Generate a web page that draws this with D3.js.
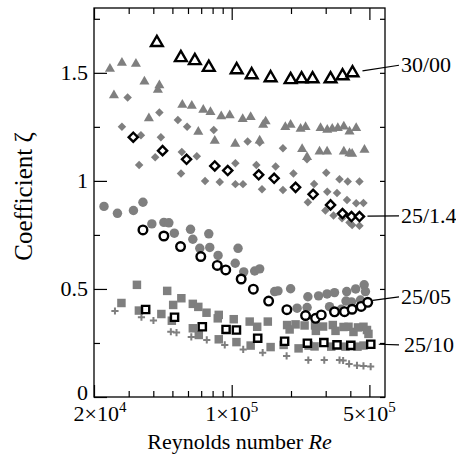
<!DOCTYPE html>
<html>
<head>
<meta charset="utf-8">
<script src="https://cdn.jsdelivr.net/npm/d3@7"></script>
<style>
  body { margin: 0; background: #fff; }
  svg { display: block; }
  text { font-family: "Liberation Serif", "Times New Roman", serif; fill: #000; }
</style>
</head>
<body>
<svg id="chart" width="456" height="469"></svg>
<script>
// --- data (Re, coefficient zeta) ---
// 30/00 : open triangles and grey triangles
var re3000 = [41700, 55200, 65000, 76500, 106000, 126300, 157600, 199100, 226300, 257300, 317500, 365200, 410300]
var zeta3000 = [1.64, 1.57, 1.556, 1.525, 1.514, 1.491, 1.477, 1.468, 1.472, 1.472, 1.472, 1.486, 1.50]
var re3000Gray = [24100, 27720, 32650, 25250, 36060, 42940, 42200, 37990, 56150, 62730, 71750, 78020, 88500, 97730, 113700, 67680, 82040, 104200, 124800, 144500, 148700, 187100, 199100, 223700, 237100, 282500, 305500, 323900, 345700, 370800, 396200, 428400, 138700, 227800, 241200, 279200, 305000, 370800, 396200, 408600, 472000]
var zeta3000Gray = [1.519, 1.546, 1.542, 1.396, 1.460, 1.442, 1.421, 1.290, 1.352, 1.347, 1.329, 1.318, 1.299, 1.303, 1.286, 1.227, 1.185, 1.171, 1.295, 1.259, 1.275, 1.249, 1.259, 1.241, 1.249, 1.244, 1.236, 1.241, 1.244, 1.251, 1.228, 1.244, 1.187, 1.147, 1.110, 1.136, 1.136, 1.136, 1.128, 1.125, 1.144]

// 25/1.4 : open diamonds and grey diamonds
var re2514 = [31640, 44580, 58990, 82040, 95480, 137100, 164200, 211000, 258900, 317500, 365100, 405500, 445200]
var zeta2514 = [1.202, 1.140, 1.100, 1.069, 1.048, 1.028, 1.012, 0.970, 0.938, 0.889, 0.849, 0.835, 0.835]
var re2514Gray = [29630, 27720, 42940, 34610, 43700, 33890, 40890, 53300, 59400, 81090, 55830, 66510, 55300, 73260, 86970, 104400, 104400, 114100, 120500, 138700, 182000, 241200, 133400, 142500, 167100, 205800, 182000, 262000, 243600, 302000, 352600, 388100, 445200, 305500, 342400, 384800, 428400, 466500, 298800, 328800, 363100, 396200, 408600, 445200]
var zeta2514Gray = [1.386, 1.25, 1.316, 1.211, 1.202, 1.074, 1.109, 1.282, 1.251, 1.236, 1.134, 1.114, 1.034, 0.999, 0.995, 0.985, 1.082, 0.985, 1.182, 1.178, 1.151, 1.100, 1.074, 0.961, 1.067, 1.034, 0.958, 0.986, 0.901, 1.038, 1.008, 0.997, 0.997, 0.950, 0.944, 0.912, 0.897, 0.898, 0.863, 0.840, 0.827, 0.807, 0.796, 0.792]

// 25/05 : open circles and grey circles
var re2505 = [35440, 45260, 54990, 69680, 84480, 93280, 111700, 128800, 154000, 190600, 237100, 266500, 284800, 332600, 373800, 408600, 454100, 490400]
var zeta2505 = [0.773, 0.745, 0.696, 0.650, 0.609, 0.588, 0.546, 0.499, 0.444, 0.404, 0.377, 0.364, 0.380, 0.394, 0.395, 0.406, 0.419, 0.438]
var re2505Gray = [22480, 26300, 31710, 35440, 39330, 45260, 47970, 51150, 61790, 63480, 76500, 68870, 77390, 85270, 107700, 104200, 115100, 130800, 138700, 165200, 171700, 199100, 214800, 243600, 241400, 276000, 304800, 332600, 313800, 380400, 383600, 425900, 470300, 477500, 359700, 405500, 450500]
var zeta2505Gray = [0.882, 0.850, 0.863, 0.901, 0.801, 0.808, 0.806, 0.758, 0.776, 0.730, 0.755, 0.688, 0.692, 0.655, 0.688, 0.619, 0.579, 0.583, 0.593, 0.488, 0.491, 0.501, 0.411, 0.464, 0.414, 0.468, 0.477, 0.483, 0.418, 0.444, 0.488, 0.500, 0.519, 0.488, 0.406, 0.440, 0.449]

// 25/10 : open squares, grey squares and grey crosses
var re2510 = [36570, 51270, 70920, 93620, 105700, 135500, 185600, 242200, 293600, 342400, 402300, 508000]
var zeta2510 = [0.405, 0.369, 0.325, 0.3125, 0.310, 0.272, 0.258, 0.249, 0.252, 0.241, 0.239, 0.244]
var re2510Gray = [27560, 33030, 33800, 43950, 47050, 49670, 50460, 55520, 63480, 67680, 63480, 68070, 74490, 85960, 84960, 85960, 102400, 105700, 123400, 134700, 152500, 124800, 157600, 191100, 196800, 211000, 183500, 218500, 234400, 264900, 267400, 245600, 263400, 290900, 326000, 336500, 369500, 391600, 320100, 378200, 415100, 437600, 466500, 486000, 494500, 435000, 466500]
var zeta2510Gray = [0.435, 0.519, 0.400, 0.384, 0.491, 0.353, 0.426, 0.457, 0.431, 0.417, 0.318, 0.287, 0.390, 0.380, 0.364, 0.267, 0.360, 0.254, 0.349, 0.325, 0.349, 0.238, 0.231, 0.333, 0.3125, 0.336, 0.241, 0.225, 0.331, 0.331, 0.306, 0.238, 0.234, 0.326, 0.333, 0.306, 0.324, 0.325, 0.233, 0.233, 0.301, 0.322, 0.325, 0.310, 0.292, 0.233, 0.238]
var re2510Plus = [25550, 34820, 40070, 49100, 52470, 62370, 74730, 92200, 114400, 143600, 190000, 244800, 295000, 352600, 367800, 394400, 432400, 466500, 507400]
var zeta2510Plus = [0.398, 0.369, 0.354, 0.302, 0.298, 0.278, 0.264, 0.241, 0.220, 0.205, 0.190, 0.171, 0.171, 0.171, 0.169, 0.153, 0.146, 0.144, 0.141]

// labels at the right, with the zeta level the leader line points at
var labelNames = ["30/00", "25/1.4", "25/05", "25/10"]
var labelZeta = [1.535, 0.838, 0.463, 0.241]

var yMajor = [0, 0.5, 1, 1.5]
var yMinor = [0.25, 0.75, 1.25, 1.75]
var xMajor = [2e4, 1e5, 5e5]
var xMajorMant = ["2", "1", "5"]
var xMajorExp = ["4", "5", "5"]
var xMinor = [3e4, 4e4, 5e4, 6e4, 7e4, 8e4, 9e4, 2e5, 3e5, 4e5]

var margin = { top: 8, right: 71, bottom: 72, left: 94 },
    width = 456 - margin.left - margin.right,
    height = 469 - margin.top - margin.bottom,
    grey = "#7f7f7f"

var zip = (a, b) => a.map((v, i) => ({ re: v, zeta: b[i] }))

var x = d3.scaleLog().domain([2e4, 6e5]).range([0, width])
var y = d3.scaleLinear().domain([0, 1.8]).range([height, 0])

var svg = d3.select('#chart')
var g = svg.append('g').attr('transform', 'translate(' + margin.left + ',' + margin.top + ')')

// ticks (all pointing inwards)
g.append('g').call(d3.axisLeft(y).tickValues(yMajor).tickSize(-13).tickPadding(6).tickFormat(d3.format('')))
g.append('g').call(d3.axisLeft(y).tickValues(yMinor).tickSize(-6).tickFormat(''))
g.append('g').attr('transform', 'translate(' + width + ',0)')
    .call(d3.axisRight(y).tickValues(yMajor.concat(yMinor)).tickSize(-5).tickFormat(''))
g.append('g').attr('transform', 'translate(0,' + height + ')')
    .call(d3.axisBottom(x).tickValues(xMajor).tickSize(-12).tickFormat(''))
g.append('g').attr('transform', 'translate(0,' + height + ')')
    .call(d3.axisBottom(x).tickValues(xMinor).tickSize(-6).tickFormat(''))
g.append('g').call(d3.axisTop(x).tickValues(xMajor).tickSize(-12).tickFormat(''))
g.append('g').call(d3.axisTop(x).tickValues(xMinor).tickSize(-6).tickFormat(''))

g.selectAll('.domain').remove()
g.selectAll('.tick line').attr('stroke', '#000').attr('stroke-width', 1.2)
g.selectAll('.tick text').style('font-family', '"Liberation Serif", serif').style('font-size', '22px').attr('fill', '#000')
// the 0 label sits a touch higher so it clears the 2x10^4 below it
g.selectAll('.tick text').filter(d => d === 0).attr('dy', '0.1em')

g.append('rect')
    .attr('width', width).attr('height', height)
    .attr('fill', 'none').attr('stroke', '#000').attr('stroke-width', 1.3)

// x tick labels like 2x10^4
var xl = g.selectAll('.xlab').data(xMajor).enter().append('text')
    .attr('class', 'xlab')
    .attr('x', (d, i) => x(d) + (i == 0 ? 6 : 0))
    .attr('y', height + 24)
    .attr('text-anchor', 'middle')
    .style('font-size', '22px')
xl.append('tspan').text((d, i) => xMajorMant[i] + '\u00d710')
xl.append('tspan').attr('dy', -9).style('font-size', '15px').text((d, i) => xMajorExp[i])

g.append('text')
    .attr('x', width / 2).attr('y', height + 52)
    .attr('text-anchor', 'middle')
    .style('font-size', '22px')
    .text('Reynolds number ')
    .append('tspan').style('font-style', 'italic').text('Re')

g.append('text')
    .attr('transform', 'translate(' + (-62) + ',' + (height / 2 - 6) + ') rotate(-90)')
    .attr('text-anchor', 'middle')
    .style('font-size', '25px')
    .text('Coefficient \u03b6')

// markers
var sym = (type, size) => d3.symbol().type(type).size(size)()
var plusPath = 'M-3.6,0H3.6M0,-3.6V3.6'

function drawSeries(data, opts) {
    g.append('g').selectAll('path').data(data).enter().append('path')
        .attr('transform', d => 'translate(' + x(d.re) + ',' + y(d.zeta) + ')' + (opts.rot ? ' rotate(45)' : ''))
        .attr('d', opts.d)
        .attr('fill', opts.fill)
        .attr('stroke', opts.stroke)
        .attr('stroke-width', opts.sw || 0)
}

drawSeries(zip(re3000Gray, zeta3000Gray), { d: sym(d3.symbolTriangle, 44), fill: grey, stroke: 'none' })
drawSeries(zip(re2514Gray, zeta2514Gray), { d: sym(d3.symbolSquare, 36), rot: true, fill: grey, stroke: 'none' })
drawSeries(zip(re2505Gray, zeta2505Gray), { d: sym(d3.symbolCircle, 70), fill: grey, stroke: 'none' })
drawSeries(zip(re2510Gray, zeta2510Gray), { d: sym(d3.symbolSquare, 72), fill: grey, stroke: 'none' })
drawSeries(zip(re2510Plus, zeta2510Plus), { d: plusPath, fill: 'none', stroke: grey, sw: 2 })

drawSeries(zip(re3000, zeta3000), { d: sym(d3.symbolTriangle, 60), fill: '#fff', stroke: '#000', sw: 2.4 })
drawSeries(zip(re2514, zeta2514), { d: sym(d3.symbolSquare, 42), rot: true, fill: '#fff', stroke: '#000', sw: 2.4 })
drawSeries(zip(re2505, zeta2505), { d: sym(d3.symbolCircle, 58), fill: '#fff', stroke: '#000', sw: 2.4 })
drawSeries(zip(re2510, zeta2510), { d: sym(d3.symbolSquare, 52), fill: '#fff', stroke: '#000', sw: 2.4 })

// leader lines + labels
var lastPts = [re3000, re2514, re2505, re2510].map((r, i) => {
    var z = [zeta3000, zeta2514, zeta2505, zeta2510][i]
    return { re: r[r.length - 1], zeta: z[z.length - 1] }
})
var leadDx = [10, 8, 5, 8], leadDy = [-2, -0.5, -2, 0]
labelNames.forEach((name, i) => {
    g.append('line')
        .attr('x1', x(lastPts[i].re) + leadDx[i]).attr('y1', y(lastPts[i].zeta) + leadDy[i])
        .attr('x2', width + 14).attr('y2', y(labelZeta[i]))
        .attr('stroke', '#000').attr('stroke-width', 1.2)
    g.append('text')
        .attr('x', width + 16 + (i == 3 ? 3 : 0))
        .attr('y', y(labelZeta[i]) + 7)
        .style('font-size', '22px')
        .text(name)
})
</script>
</body>
</html>
